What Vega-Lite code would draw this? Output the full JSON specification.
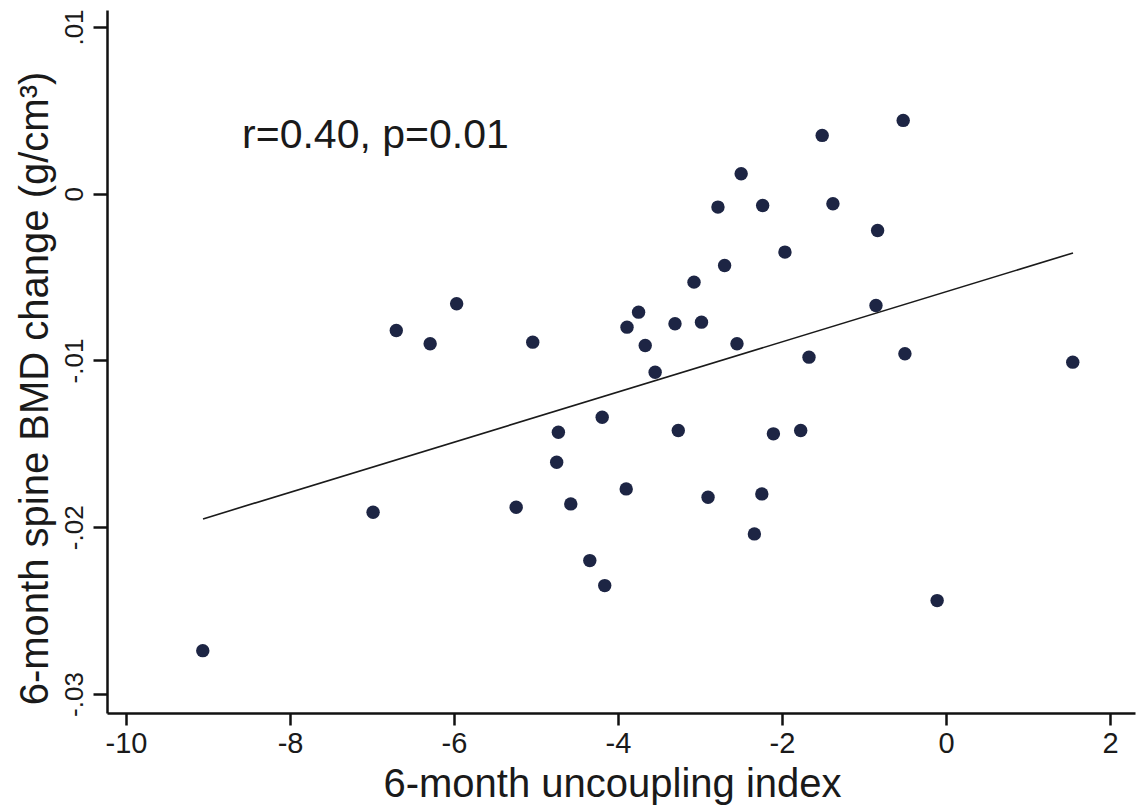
{
  "$schema": "https://vega.github.io/schema/vega-lite/v6.json",
  "width": 1028,
  "height": 703,
  "autosize": "none",
  "padding": {"left": 107, "top": 10, "right": 3, "bottom": 95},
  "background": "white",
  "config": {"view": {"stroke": null}, "font": "Liberation Sans"},
  "datasets": {
    "pts": [
      {"x": -9.064, "y": -0.0274},
      {"x": -6.987, "y": -0.0191},
      {"x": -6.704, "y": -0.0082},
      {"x": -6.291, "y": -0.0090},
      {"x": -5.968, "y": -0.0066},
      {"x": -5.040, "y": -0.0089},
      {"x": -5.242, "y": -0.0188},
      {"x": -4.727, "y": -0.0143},
      {"x": -4.748, "y": -0.0161},
      {"x": -4.576, "y": -0.0186},
      {"x": -4.344, "y": -0.0220},
      {"x": -4.162, "y": -0.0235},
      {"x": -4.193, "y": -0.0134},
      {"x": -3.900, "y": -0.0177},
      {"x": -3.890, "y": -0.0080},
      {"x": -3.749, "y": -0.0071},
      {"x": -3.668, "y": -0.0091},
      {"x": -3.547, "y": -0.0107},
      {"x": -3.305, "y": -0.0078},
      {"x": -3.265, "y": -0.0142},
      {"x": -3.073, "y": -0.0053},
      {"x": -2.982, "y": -0.0077},
      {"x": -2.902, "y": -0.0182},
      {"x": -2.781, "y": -0.0008},
      {"x": -2.700, "y": -0.0043},
      {"x": -2.549, "y": -0.0090},
      {"x": -2.498, "y": 0.0012},
      {"x": -2.337, "y": -0.0204},
      {"x": -2.246, "y": -0.0180},
      {"x": -2.236, "y": -0.0007},
      {"x": -2.105, "y": -0.0144},
      {"x": -1.964, "y": -0.0035},
      {"x": -1.772, "y": -0.0142},
      {"x": -1.671, "y": -0.0098},
      {"x": -1.510, "y": 0.0035},
      {"x": -1.379, "y": -0.0006},
      {"x": -0.834, "y": -0.0022},
      {"x": -0.854, "y": -0.0067},
      {"x": -0.522, "y": 0.0044},
      {"x": -0.501, "y": -0.0096},
      {"x": -0.108, "y": -0.0244},
      {"x": 1.546, "y": -0.0101}
    ],
    "fit": [
      {"x": -9.061, "y": -0.0195},
      {"x": 1.549, "y": -0.00355}
    ],
    "note": [
      {"x": -8.585, "y": 0.00274, "label": "r=0.40, p=0.01"}
    ]
  },
  "encoding": {
    "x": {
      "field": "x",
      "type": "quantitative",
      "scale": {"domain": [-10.232, 2.305], "nice": false, "zero": false},
      "axis": {
        "title": "6-month uncoupling index",
        "values": [-10, -8, -6, -4, -2, 0, 2],
        "labelExpr": "(datum.value < 0 ? '-' : '') + abs(datum.value)",
        "grid": false,
        "domainColor": "#111111",
        "domainWidth": 2.5,
        "tickColor": "#111111",
        "tickWidth": 2.5,
        "tickSize": 12,
        "labelFontSize": 29,
        "labelColor": "#1a1a1a",
        "labelPadding": 27,
        "labelBaseline": "alphabetic",
        "labelFlush": false,
        "labelOverlap": false,
        "titleFontSize": 40,
        "titleFontWeight": "normal",
        "titleColor": "#1a1a1a",
        "titleBaseline": "alphabetic",
        "titleAlign": "center",
        "titleX": 505,
        "titleY": 83
      }
    },
    "y": {
      "field": "y",
      "type": "quantitative",
      "scale": {"domain": [-0.03114, 0.01102], "nice": false, "zero": false},
      "axis": {
        "title": "6-month spine BMD change (g/cm³)",
        "values": [-0.03, -0.02, -0.01, 0, 0.01],
        "labelExpr": "datum.value == 0 ? '0' : (datum.value < 0 ? '-' : '') + '.' + substring(format(abs(datum.value), '.2f'), 2)",
        "grid": false,
        "domainColor": "#111111",
        "domainWidth": 2.5,
        "tickColor": "#111111",
        "tickWidth": 2.5,
        "tickSize": 14,
        "labelFontSize": 26,
        "labelColor": "#1a1a1a",
        "labelAngle": 270,
        "labelAlign": "center",
        "labelBaseline": "alphabetic",
        "labelPadding": 11,
        "labelFlush": false,
        "labelOverlap": false,
        "titleFontSize": 40,
        "titleFontWeight": "normal",
        "titleColor": "#1a1a1a",
        "titleAngle": 270,
        "titleAlign": "center",
        "titleBaseline": "alphabetic",
        "titleX": -60,
        "titleY": 378
      }
    }
  },
  "layer": [
    {
      "data": {"name": "fit"},
      "mark": {"type": "line", "color": "#1a1a1a", "strokeWidth": 1.6}
    },
    {
      "data": {"name": "pts"},
      "mark": {"type": "circle", "size": 180, "color": "#1d2544", "opacity": 1}
    },
    {
      "data": {"name": "note"},
      "mark": {"type": "text", "align": "left", "baseline": "alphabetic", "fontSize": 41, "color": "#1a1a1a"},
      "encoding": {"text": {"field": "label"}}
    }
  ]
}
